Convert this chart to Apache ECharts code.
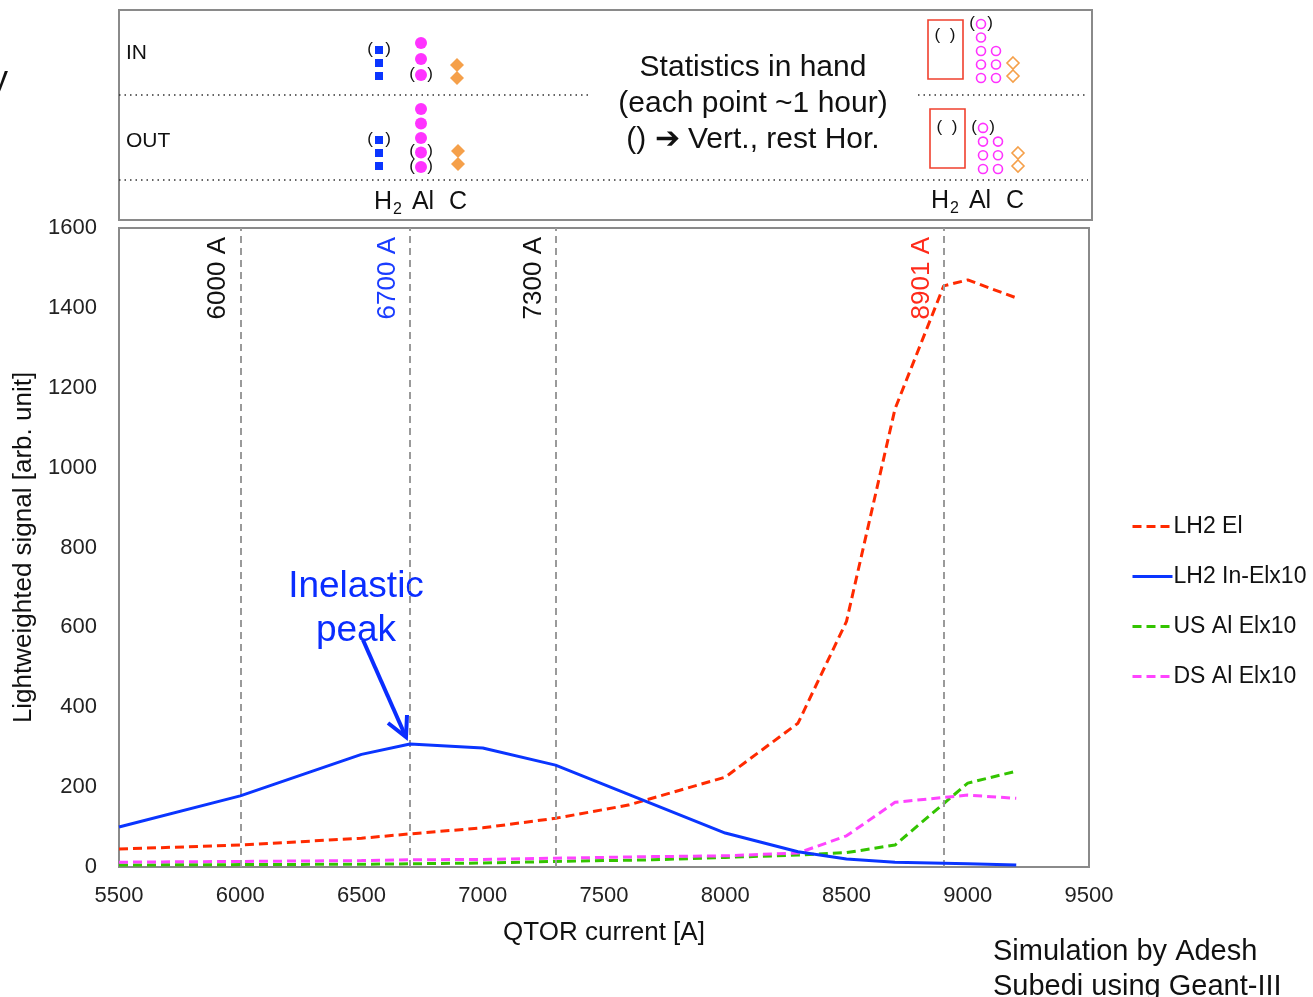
<!DOCTYPE html>
<html>
<head>
<meta charset="utf-8">
<script src="https://cdn.jsdelivr.net/npm/echarts@6/dist/echarts.min.js"></script>
<style>
  html, body { margin: 0; padding: 0; background: #fff; }
  #main { width: 1313px; height: 997px; }
</style>
</head>
<body>
<div id="main"></div>
<script>
// QTOR scan values
const currents = [5500, 6000, 6500, 6700, 7000, 7300, 7600, 8000, 8300, 8500, 8700, 8901, 9000, 9200];
const lh2El = [45, 55, 72, 83, 98, 122, 155, 225, 360, 615, 1147, 1455, 1470, 1425];

const currentsB = [5500, 6000, 6500, 6700, 7000, 7300, 8000, 8300, 8500, 8700, 9000, 9200];
const lh2InEl = [100, 178, 282, 308, 298, 255, 85, 38, 20, 12, 8, 5];

const currentsAl = [5500, 6000, 6500, 6700, 7000, 7300, 7700, 8000, 8300, 8500, 8700, 9000, 9200];
const usAlEl = [5, 6, 7, 8, 10, 14, 18, 24, 30, 36, 55, 210, 240];
const dsAlEl = [12, 14, 16, 18, 19, 22, 26, 28, 35, 78, 162, 180, 172];

const refCurrents = [6000, 6700, 7300, 8901];
const refColors = ['#111', '#1a3cff', '#111', '#ff2a1a'];

// statistics in hand: number of points per target, IN / OUT
const doneIn = { h2: 3, al: 3, c: 2 };
const doneOut = { h2: 3, al: 5, c: 2 };
const todoIn = { al: [5, 3], c: 2 };
const todoOut = { al: [4, 3], c: 2 };

const pairs = (xs, ys) => xs.map((x, i) => [x, ys[i]]);

const FONT = 'Liberation Sans, Arial, sans-serif';
const g = [];

// ---- top statistics box ----
g.push({ type: 'rect', shape: { x: 119, y: 10, width: 973, height: 210 },
  style: { fill: 'none', stroke: '#8a8a8a', lineWidth: 2 } });
function dotted(x1, x2, y) {
  g.push({ type: 'line', shape: { x1: x1, y1: y, x2: x2, y2: y },
    style: { stroke: '#333', lineWidth: 1.5, lineDash: [1.5, 4] } });
}
dotted(119, 590, 95);
dotted(918, 1088, 95);
dotted(119, 1088, 180);

function txt(x, y, s, size, color, align) {
  g.push({ type: 'text', x: x, y: y, style: { text: s, font: size + 'px ' + FONT,
    fill: color || '#111', align: align || 'left', verticalAlign: 'middle' } });
}
function paren(x, y) {
  txt(x - 9, y - 1, '(', 17, '#111', 'center');
  txt(x + 9, y - 1, ')', 17, '#111', 'center');
}
function marker(kind, x, y, filled) {
  if (kind === 'sq') {
    g.push({ type: 'rect', shape: { x: x - 4, y: y - 4, width: 8, height: 8 }, style: { fill: '#0a35ff' } });
  } else if (kind === 'ci') {
    g.push({ type: 'circle', shape: { cx: x, cy: y, r: filled ? 6 : 4.5 },
      style: filled ? { fill: '#ff33ff' } : { fill: 'none', stroke: '#ff33ff', lineWidth: 1.6 } });
  } else {
    const s = filled ? 7 : 6;
    g.push({ type: 'polygon', shape: { points: [[x, y - s], [x + s, y], [x, y + s], [x - s, y]] },
      style: filled ? { fill: '#f5a04a' } : { fill: 'none', stroke: '#f5a04a', lineWidth: 1.6 } });
  }
}
function column(kind, x, bottom, n, step, filled, parens) {
  for (let i = 0; i < n; i++) {
    const y = bottom - (n - 1 - i) * step;
    marker(kind, x, y, filled);
    if (parens.indexOf(i) >= 0) paren(x, y);
  }
}
txt(126, 53, 'IN', 21);
txt(126, 141, 'OUT', 21);
// done (filled)
column('sq', 379, 76, doneIn.h2, 13, true, [0]);
column('ci', 421, 75, doneIn.al, 16, true, [2]);
column('di', 457, 78, doneIn.c, 13, true, []);
column('sq', 379, 166, doneOut.h2, 13, true, [0]);
column('ci', 421, 167, doneOut.al, 14.5, true, [3, 4]);
column('di', 458, 164, doneOut.c, 13, true, []);
// to do (hollow)
g.push({ type: 'rect', shape: { x: 928, y: 20, width: 35, height: 59 }, style: { fill: 'none', stroke: '#f0402e', lineWidth: 1.6 } });
g.push({ type: 'rect', shape: { x: 930, y: 109, width: 35, height: 59 }, style: { fill: 'none', stroke: '#f0402e', lineWidth: 1.6 } });
txt(945, 35, '(  )', 17, '#111', 'center');
txt(947, 127, '(  )', 17, '#111', 'center');
column('ci', 981, 78, todoIn.al[0], 13.5, false, [0]);
column('ci', 996, 78, todoIn.al[1], 13.5, false, []);
column('di', 1013, 76, todoIn.c, 13, false, []);
column('ci', 983, 169, todoOut.al[0], 13.7, false, [0]);
column('ci', 998, 169, todoOut.al[1], 13.7, false, []);
column('di', 1018, 166, todoOut.c, 13, false, []);
function targets(xH, xAl, xC, y) {
  g.push({ type: 'text', x: xH, y: y, style: { text: '{a|H}{s|2}', align: 'center', verticalAlign: 'middle',
    rich: { a: { font: '25px ' + FONT, fill: '#111' }, s: { font: '16px ' + FONT, fill: '#111', padding: [15, 0, 0, 1] } } } });
  txt(xAl, y, 'Al', 25, '#111', 'center');
  txt(xC, y, 'C', 25, '#111', 'center');
}
targets(388, 423, 458, 202);
targets(945, 980, 1015, 201);
g.push({ type: 'text', x: 753, y: 104, style: {
  text: 'Statistics in hand\n(each point ~1 hour)\n() \u2794 Vert., rest Hor.',
  font: '30px ' + FONT, fill: '#111', align: 'center', verticalAlign: 'middle', lineHeight: 36 } });

// cut-off letter at the left edge
txt(-9, 80, 'y', 34);

// ---- annotation ----
g.push({ type: 'text', x: 356, y: 609, style: { text: 'Inelastic\npeak', font: '37px ' + FONT,
  fill: '#0a2dff', align: 'center', verticalAlign: 'middle', lineHeight: 44 } });
g.push({ type: 'line', shape: { x1: 363, y1: 640, x2: 405, y2: 735 }, style: { stroke: '#0a2dff', lineWidth: 4 } });
g.push({ type: 'polyline', shape: { points: [[388, 723], [406, 737], [407, 715]] },
  style: { stroke: '#0a2dff', lineWidth: 4, fill: 'none', lineJoin: 'miter' } });

// ---- footer ----
g.push({ type: 'text', x: 993, y: 934, style: { text: 'Simulation by Adesh\nSubedi using Geant-III',
  font: '29px ' + FONT, fill: '#111', lineHeight: 35 } });

const chart = echarts.init(document.getElementById('main'));
const dash = [9, 5];
chart.setOption({
  animation: false,
  textStyle: { fontFamily: FONT },
  grid: { left: 119, top: 228, width: 970, height: 639, show: true, borderColor: '#8a8a8a', borderWidth: 2 },
  legend: {
    orient: 'vertical', left: 1126, top: 510, itemGap: 27, itemWidth: 40, itemHeight: 4,
    lineStyle: { width: 3 },
    textStyle: { fontSize: 23, color: '#111', padding: [0, 0, 0, -4] },
    data: ['LH2 El', 'LH2 In-Elx10', 'US Al Elx10', 'DS Al Elx10']
  },
  xAxis: {
    type: 'value', min: 5500, max: 9500, interval: 500,
    name: 'QTOR current [A]', nameLocation: 'middle', nameGap: 53,
    nameTextStyle: { fontSize: 26, color: '#111' },
    axisLine: { lineStyle: { color: '#8a8a8a', width: 2 } },
    axisTick: { show: false }, splitLine: { show: false },
    axisLabel: { fontSize: 22, color: '#222', margin: 18, formatter: v => String(v) }
  },
  yAxis: {
    type: 'value', min: 0, max: 1600, interval: 200,
    name: 'Lightweighted signal [arb. unit]', nameLocation: 'middle', nameGap: 82,
    nameTextStyle: { fontSize: 26, color: '#111' },
    axisLine: { show: true, lineStyle: { color: '#8a8a8a', width: 2 } },
    axisTick: { show: false }, splitLine: { show: false },
    axisLabel: { fontSize: 22, color: '#222', margin: 22, formatter: v => String(v) }
  },
  series: [
    {
      name: 'LH2 El', type: 'line', symbol: 'none', z: 4,
      lineStyle: { color: '#ff2a00', width: 3, type: dash }, itemStyle: { color: '#ff2a00' },
      data: pairs(currents, lh2El),
      markLine: {
        silent: true, symbol: 'none',
        lineStyle: { color: '#9a9a9a', width: 2, type: [7, 5] },
        label: { position: 'insideEndTop', fontSize: 26, distance: 9 },
        data: refCurrents.map((c, i) => ({ xAxis: c, label: { formatter: c + ' A', color: refColors[i] } }))
      }
    },
    {
      name: 'LH2 In-Elx10', type: 'line', symbol: 'none', z: 5,
      lineStyle: { color: '#0a35ff', width: 3 }, itemStyle: { color: '#0a35ff' },
      data: pairs(currentsB, lh2InEl)
    },
    {
      name: 'US Al Elx10', type: 'line', symbol: 'none', z: 3,
      lineStyle: { color: '#33c400', width: 3, type: dash }, itemStyle: { color: '#33c400' },
      data: pairs(currentsAl, usAlEl)
    },
    {
      name: 'DS Al Elx10', type: 'line', symbol: 'none', z: 3,
      lineStyle: { color: '#ff44ff', width: 3, type: dash }, itemStyle: { color: '#ff44ff' },
      data: pairs(currentsAl, dsAlEl)
    }
  ],
  graphic: g
});
</script>
</body>
</html>
